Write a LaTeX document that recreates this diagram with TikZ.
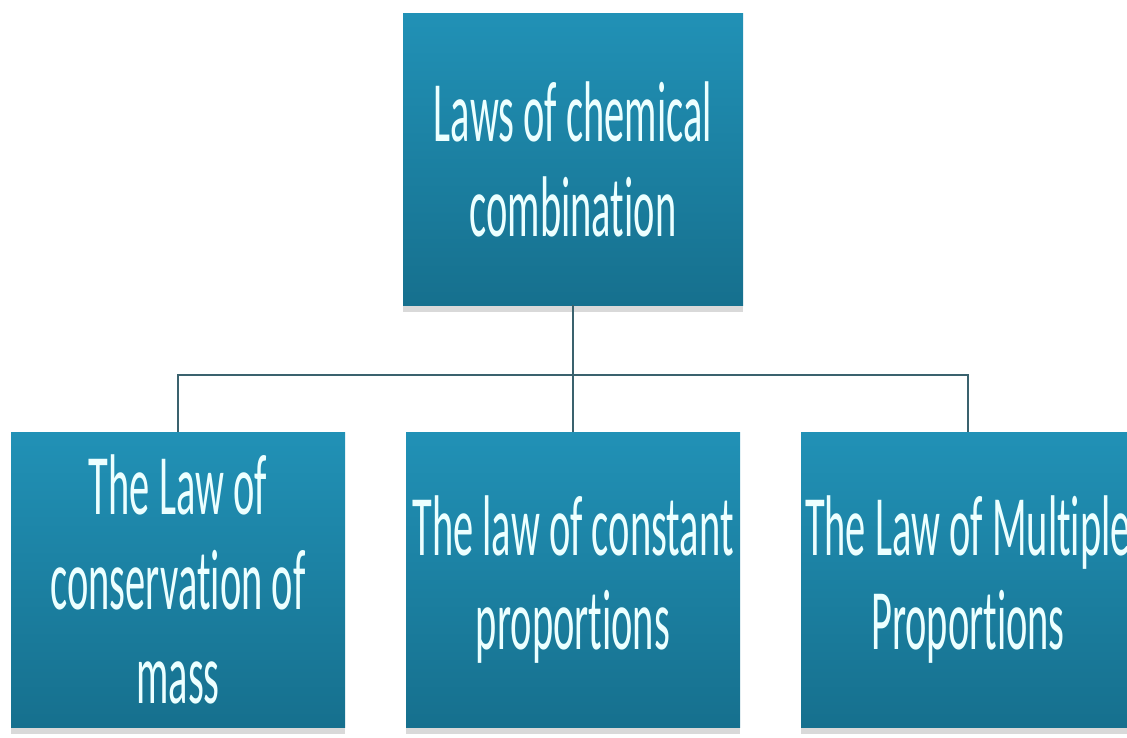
\documentclass[tikz,border=0pt]{standalone}
\usepackage{fontspec}
\usetikzlibrary{shadows}
\newfontfamily\boxfont[FakeStretch=0.47, Ligatures=NoCommon]{Carlito}
\definecolor{boxtop}{RGB}{33,145,182}
\definecolor{boxbot}{RGB}{22,112,142}
\definecolor{linkcol}{RGB}{58,98,110}
\definecolor{textcol}{RGB}{236,255,255}

\begin{document}
\begin{tikzpicture}[rectangle, every node/.style={top color=boxtop, bottom color=boxbot, text=textcol, align=center, inner sep=0pt, font=\boxfont\fontsize{49}{54}\selectfont, drop shadow={opacity=0.3, shadow xshift=0pt, shadow yshift=-4pt}}, law/.style={minimum height=5.9cm, minimum width=6.68cm}, node distance=7.9cm, link/.style={draw=linkcol, line width=1pt}]

				\clip (0,0) rectangle (22.54,-14.74);

				\node [minimum height=5.84cm, minimum width=6.8cm] (L) at (11.46,-3.18) {Laws of chemical\\combination};
				\node [law] (P) at (11.46,-11.59) {The law of constant\\proportions};
				\node [law] (C) [left of = P] {The Law of\\conservation of\\mass};
				\node [law] (M) [right of = P] {The Law of Multiple\\Proportions};

				\coordinate (J) at ([yshift=-1.4cm]L.south);

				\draw [link] (L) -- (J);
				\draw [link] (J) -| (C.north);
				\draw [link] (J) -- (P.north);
				\draw [link] (J) -| (M.north);

			\end{tikzpicture}
\end{document}
